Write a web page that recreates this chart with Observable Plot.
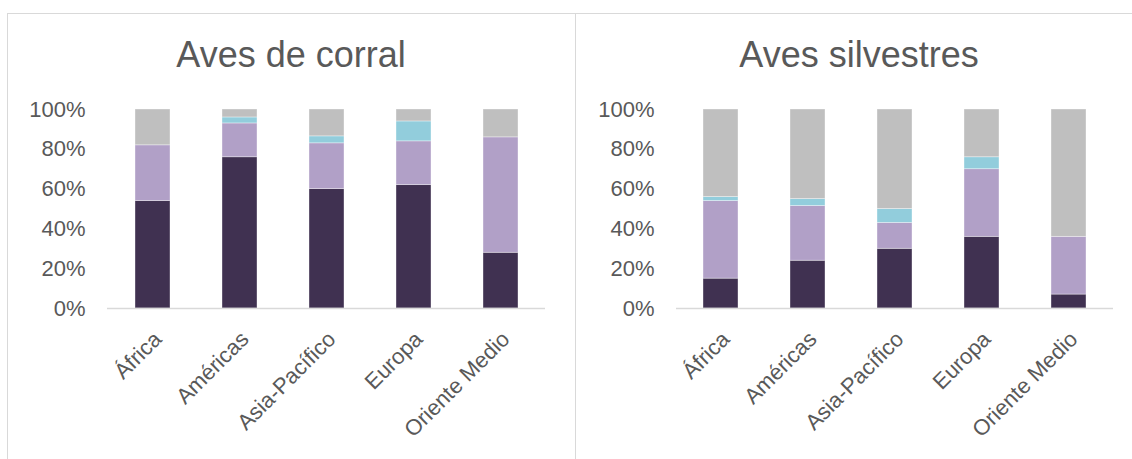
<!DOCTYPE html>
<html>
<head>
<meta charset="utf-8">
<script src="https://cdn.jsdelivr.net/npm/d3@7"></script>
<script src="https://cdn.jsdelivr.net/npm/@observablehq/plot@0.6"></script>
<style>
  html, body { margin: 0; padding: 0; background: #fff; }
  #chart { position: relative; width: 1132px; height: 459px; overflow: hidden; background: #fff;
           font-family: "Liberation Sans", Arial, sans-serif; color: #595959; }
  .panel { position: absolute; top: 13px; height: 470px; width: 569px; box-sizing: border-box;
           border: 1.5px solid #D9D9D9; pointer-events: none; }
  .title { position: absolute; top: 37px; width: 568px; text-align: center; font-size: 36px;
           line-height: 36px; color: #595959; white-space: nowrap; }
  svg { position: absolute; top: 0; }
</style>
</head>
<body>
<div id="chart"></div>
<script>
// Regions on the x axis
const regiones = ["África", "Américas", "Asia-Pacífico", "Europa", "Oriente Medio"];

// Four stacked segments, bottom to top (percent of each region's total)
const segmentos = ["Segmento 1", "Segmento 2", "Segmento 3", "Segmento 4"];
const coloresSegmentos = ["#403151", "#B1A0C7", "#92CDDC", "#BFBFBF"];

// Aves de corral
const corralSeg1 = [54, 76, 60, 62, 28];
const corralSeg2 = [28, 17, 23, 22, 58];
const corralSeg3 = [0, 3, 3.5, 10, 0];
const corralSeg4 = [18, 4, 13.5, 6, 14];

// Aves silvestres
const silvestresSeg1 = [15, 24, 30, 36, 7];
const silvestresSeg2 = [39, 27.5, 13, 34, 29];
const silvestresSeg3 = [2, 3.5, 7, 6, 0];
const silvestresSeg4 = [44, 45, 50, 24, 64];

// Y axis ticks
const ticksY = [0, 20, 40, 60, 80, 100];

const paneles = [
  { titulo: "Aves de corral", series: [corralSeg1, corralSeg2, corralSeg3, corralSeg4],
    left: 0, width: 575, marginLeft: 107, marginRight: 30, panelLeft: 7 },
  { titulo: "Aves silvestres", series: [silvestresSeg1, silvestresSeg2, silvestresSeg3, silvestresSeg4],
    left: 575, width: 557, marginLeft: 101, marginRight: 19, panelLeft: 575 }
];

const chart = document.getElementById("chart");
const font = '"Liberation Sans", Arial, sans-serif';

for (const p of paneles) {
  const filas = [];
  segmentos.forEach((s, i) => {
    regiones.forEach((r, j) => filas.push({ region: r, segmento: s, valor: p.series[i][j] }));
  });

  const svg = Plot.plot({
    width: p.width,
    height: 459,
    marginLeft: p.marginLeft,
    marginRight: p.marginRight,
    marginTop: 109,
    marginBottom: 151,
    style: { background: "transparent", fontFamily: font, color: "#595959", overflow: "visible" },
    x: { domain: regiones, paddingInner: 0.6, paddingOuter: 0.3, axis: null },
    y: { domain: [0, 100], axis: null },
    color: { domain: segmentos, range: coloresSegmentos },
    marks: [
      Plot.barY(filas, { x: "region", y: "valor", fill: "segmento",
                         stroke: "#ffffff", strokeOpacity: 0.45, strokeWidth: 0.8 }),
      Plot.ruleY([0], { stroke: "#D9D9D9", strokeWidth: 1.5 }),
      Plot.axisY(ticksY, { tickSize: 0, tickPadding: 22, fontSize: 22, label: null,
                           tickFormat: d => d + "%", fill: "#595959" }),
      Plot.text(regiones, { x: d => d, frameAnchor: "bottom", rotate: -45,
                            textAnchor: "end", lineAnchor: "middle", fontSize: 22,
                            fill: "#595959", dx: 5, dy: 27 })
    ]
  });
  svg.style.left = p.left + "px";
  chart.appendChild(svg);

  const titulo = document.createElement("div");
  titulo.className = "title";
  titulo.style.left = p.panelLeft + "px";
  titulo.textContent = p.titulo;
  chart.appendChild(titulo);

  const panel = document.createElement("div");
  panel.className = "panel";
  panel.style.left = p.panelLeft + "px";
  chart.appendChild(panel);
}
</script>
</body>
</html>
